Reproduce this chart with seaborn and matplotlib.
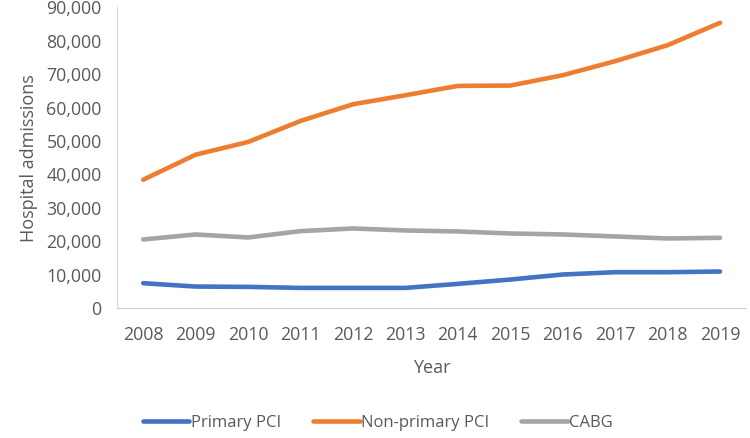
import pandas as pd
import numpy as np
from matplotlib import pyplot as plt
import seaborn as sns

years = list(range(2008, 2020))
primary_pci = [7400, 6400, 6300, 6000, 6000, 6000, 7200, 8500, 10000, 10700, 10700, 10900]
non_primary_pci = [38400, 45900, 49700, 56000, 61000, 63700, 66500, 66600, 69700, 73900, 78700, 85400]
cabg = [20500, 22000, 21100, 23000, 23800, 23200, 22900, 22300, 22000, 21400, 20800, 21000]

series_names = ['Primary PCI', 'Non-primary PCI', 'CABG']
colors = ['#4472C4', '#ED7D31', '#A5A5A5']

df = pd.DataFrame({'Year': years,
                   'Primary PCI': primary_pci,
                   'Non-primary PCI': non_primary_pci,
                   'CABG': cabg})
long_df = df.melt(id_vars='Year', var_name='Series', value_name='Admissions')

sns.set_style('white')
plt.rcParams['font.family'] = ['Open Sans', 'DejaVu Sans']

fig = plt.figure(figsize=(7.5, 4.38), dpi=100)
ax = fig.add_axes([0.156, 0.297, 0.839, 0.686])

sns.lineplot(data=long_df, x='Year', y='Admissions', hue='Series',
             hue_order=series_names, palette=colors, linewidth=3.3,
             ax=ax, legend=False)

ax.set_xlim(2007.5, 2019.5)
ax.set_ylim(0, 90000)
ax.set_xticks(years)
ax.set_yticks(np.arange(0, 90001, 10000))
ax.yaxis.set_major_formatter(plt.FuncFormatter(lambda v, p: f'{int(v):,}'))
ax.tick_params(axis='both', labelsize=12.8, labelcolor='#595959', length=0)
ax.tick_params(axis='x', pad=13)
ax.tick_params(axis='y', pad=11)

for side in ['top', 'right']:
    ax.spines[side].set_visible(False)
ax.spines['left'].set_color('#D9D9D9')
ax.spines['bottom'].set_color('#D0D0D0')

ax.set_xlabel('Year', fontsize=13, color='#595959', labelpad=11)
ax.set_ylabel('Hospital admissions', fontsize=13, color='#595959', labelpad=6)

handles = [plt.Line2D([], [], color=c, linewidth=3.3) for c in colors]
fig.legend(handles, series_names, loc='center', bbox_to_anchor=(0.504, 0.034),
           ncol=3, frameon=False, fontsize=12, labelcolor='#595959',
           handlelength=2.8, handletextpad=0.1, columnspacing=1.9)

plt.savefig('out.png', dpi=100)
